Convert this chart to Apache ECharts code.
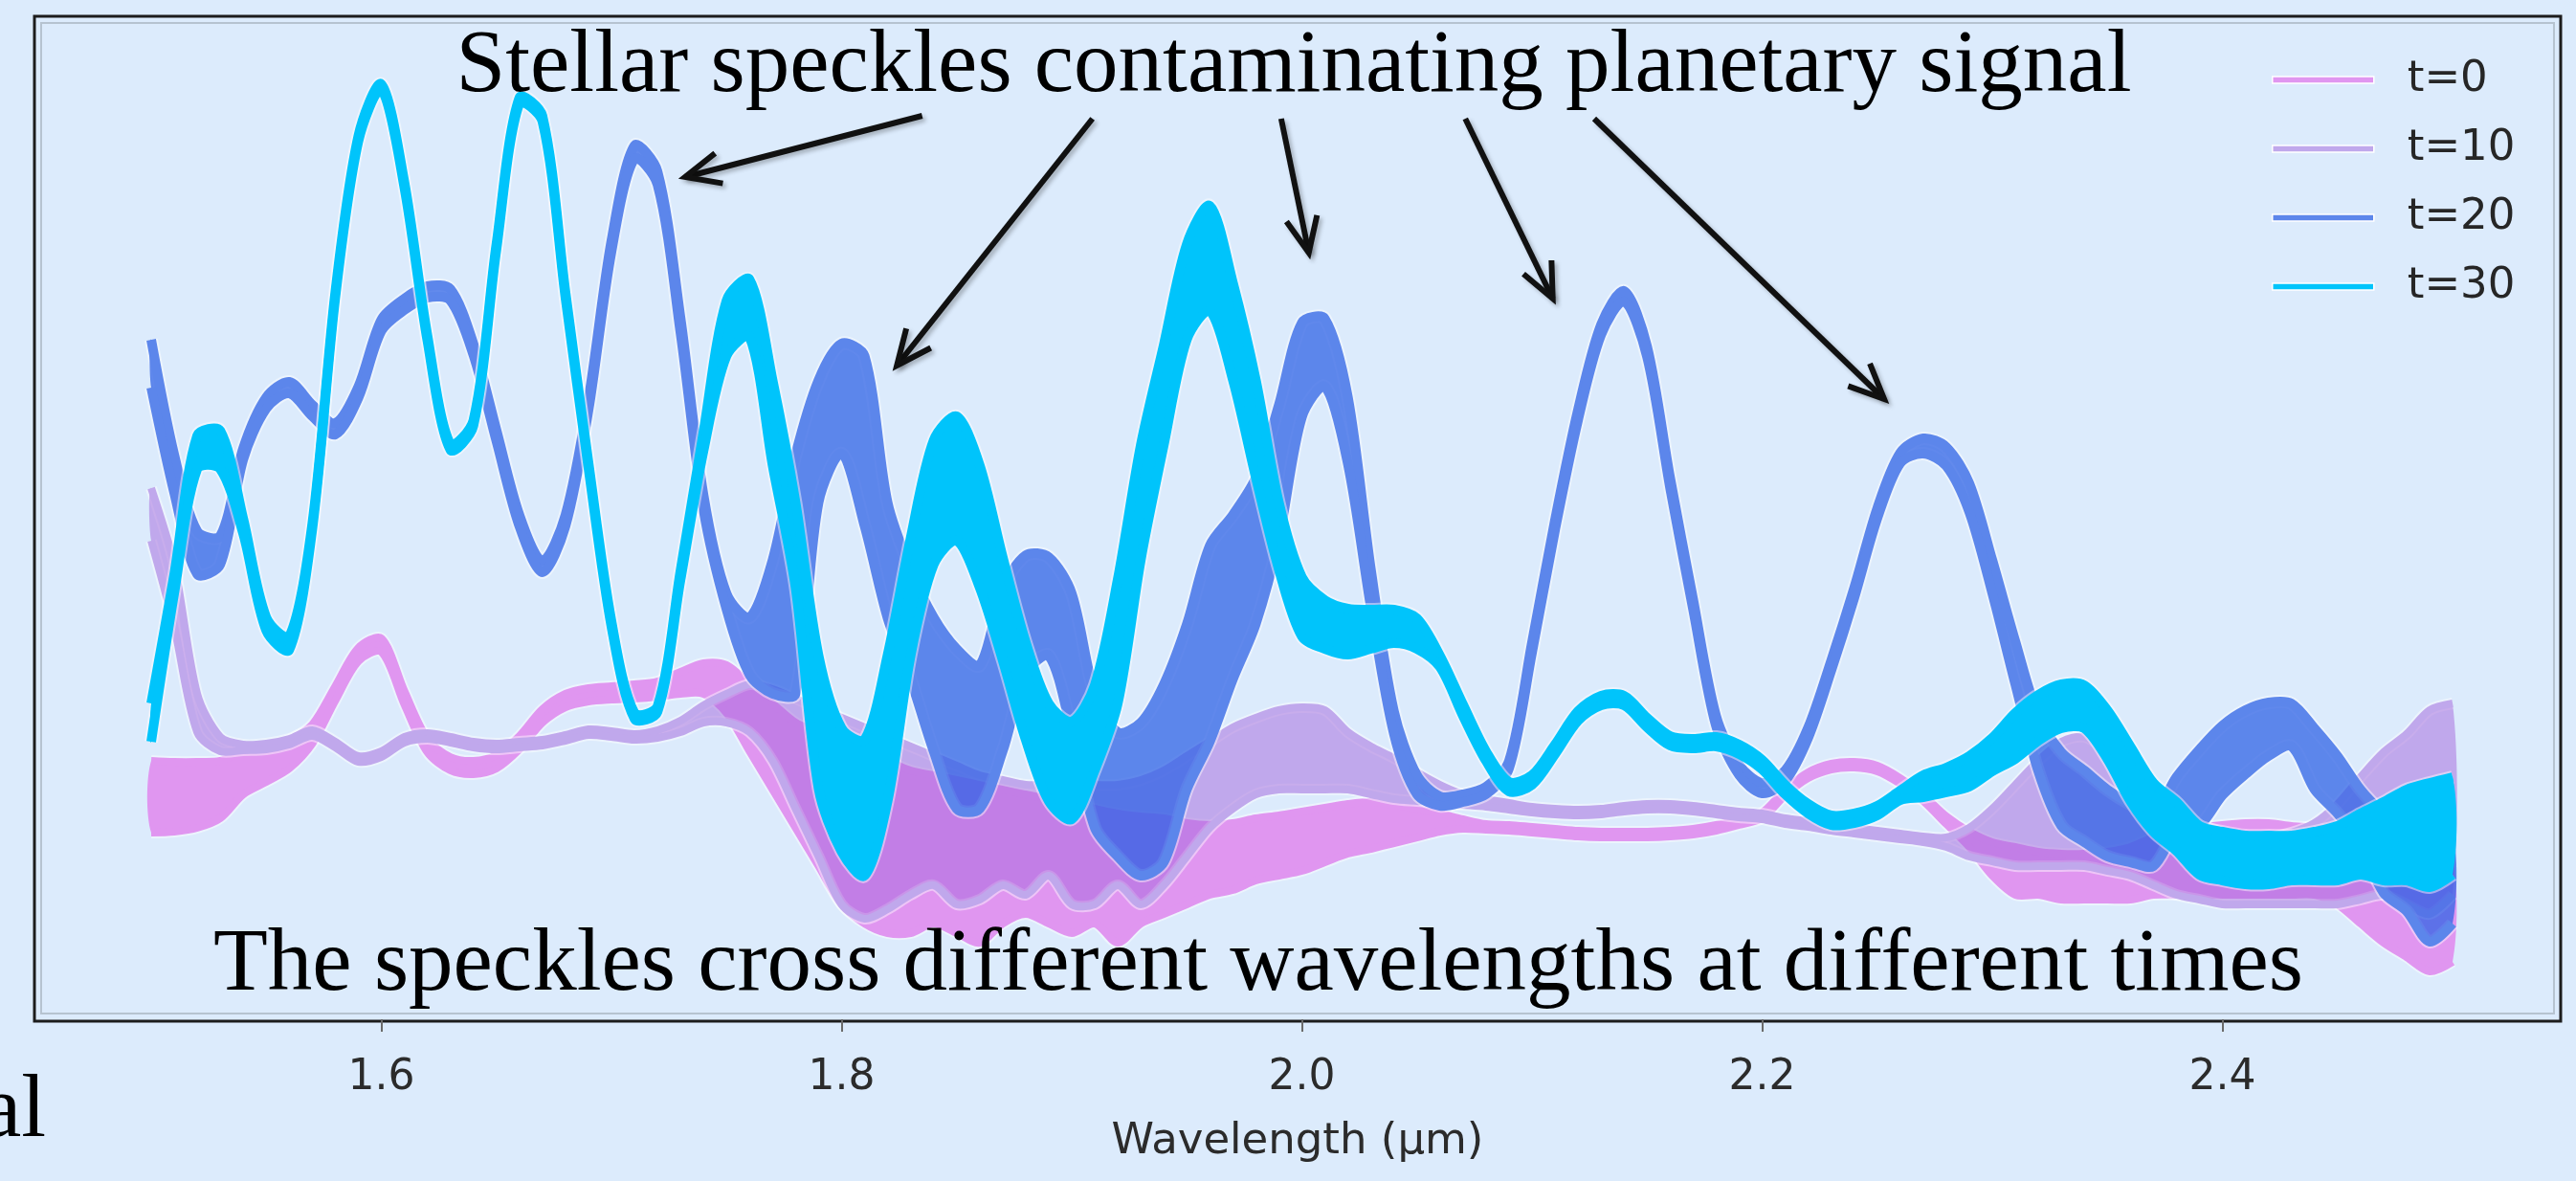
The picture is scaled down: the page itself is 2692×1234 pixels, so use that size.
<!DOCTYPE html>
<html>
<head>
    <meta charset="utf-8">
    <title>Stellar speckles contaminating planetary signal</title>
    <script src="https://cdn.jsdelivr.net/npm/echarts@6/dist/echarts.min.js"></script>
    <style>
        html, body { margin: 0; padding: 0; background: #dcebfc; }
        #main { width: 2692px; height: 1234px; }
    </style>
</head>
<body>
    <div id="main"></div>
    <script type="text/javascript">

        // wavelength grid (micron)
        var wavelength = [
            1.50, 1.51, 1.52, 1.53, 1.54, 1.55, 1.56, 1.57, 1.58, 1.59,
            1.60, 1.61, 1.62, 1.63, 1.64, 1.65, 1.66, 1.67, 1.68, 1.69,
            1.70, 1.71, 1.72, 1.73, 1.74, 1.75, 1.76, 1.77, 1.78, 1.79,
            1.80, 1.81, 1.82, 1.83, 1.84, 1.85, 1.86, 1.87, 1.88, 1.89,
            1.90, 1.91, 1.92, 1.93, 1.94, 1.95, 1.96, 1.97, 1.98, 1.99,
            2.00, 2.01, 2.02, 2.03, 2.04, 2.05, 2.06, 2.07, 2.08, 2.09,
            2.10, 2.11, 2.12, 2.13, 2.14, 2.15, 2.16, 2.17, 2.18, 2.19,
            2.20, 2.21, 2.22, 2.23, 2.24, 2.25, 2.26, 2.27, 2.28, 2.29,
            2.30, 2.31, 2.32, 2.33, 2.34, 2.35, 2.36, 2.37, 2.38, 2.39,
            2.40, 2.41, 2.42, 2.43, 2.44, 2.45, 2.46, 2.47, 2.48, 2.49,
            2.50
        ];

        // each spectrum is noisy, so it is kept as an upper and lower envelope
        var t0Hi = [
            27, 26.9, 26.9, 27, 28, 28.5, 29.2, 30.8, 34.8, 38.8,
            39.8, 34.3, 29.3, 27.4, 27, 27.6, 29.6, 32.4, 34, 34.6,
            34.8, 35, 35.3, 36.3, 37.2, 37, 35, 33, 31, 30,
            29, 28, 27, 26, 25.5, 25, 24.5, 24, 23.5, 23,
            22.5, 22, 21.5, 21.2, 21, 20.5, 20.3, 20.5, 21, 21.3,
            21.7, 22.1, 22.5, 22.7, 22.4, 22, 21.5, 20.9, 20.4, 20.3,
            20.1, 19.9, 19.7, 19.6, 19.6, 19.6, 19.7, 19.9, 20.3, 20.9,
            21.6, 24, 25.8, 26.7, 26.9, 26.5, 25.2, 23.4, 21.2, 19.6,
            18.5, 18, 17.5, 17.3, 17.3, 17.5, 18, 19, 19.5, 20,
            20.3, 20.5, 20.5, 20.2, 20, 19.5, 19, 18.5, 18, 17.5,
            17
        ];
        var t0Lo = [
            19.5, 19.6, 20, 21, 23.5, 24.8, 26.2, 28.8, 33.3, 37.4,
            38.4, 32.9, 27.9, 26, 25.6, 26.2, 28.2, 31, 32.6, 33.2,
            33.4, 33.5, 33.7, 34, 34, 32, 28, 24, 20, 16,
            12, 10, 9, 9, 10, 9, 8, 10, 11, 10,
            9, 10, 8, 10, 11, 12, 13, 13.5, 14.5, 15,
            15.5, 16.4, 17.3, 17.8, 18.4, 19, 19.6, 19.9, 19.8, 19.7,
            19.5, 19.3, 19.1, 19, 19, 19, 19.1, 19.3, 19.7, 20.3,
            21, 23.4, 25.2, 26.1, 26.3, 25.9, 24.6, 22.8, 20.4, 18,
            15, 13, 13, 12.5, 12.5, 12.5, 12.5, 13, 13, 13,
            13, 13, 13, 13, 13, 12, 10, 8, 6.5, 5,
            6
        ];
        var t10Hi = [
            55.5, 47.5, 34, 29.5, 28.7, 28.8, 29.3, 30.2, 29, 27.5,
            28, 29.5, 29.9, 29.5, 29, 28.8, 29, 29.2, 29.7, 30.3,
            30.1, 29.8, 30.2, 31.2, 32.8, 34, 35, 34.5, 33.5, 32.5,
            31.5, 30.5, 29.5, 28.5, 27.5, 26.5, 25.5, 25, 24.5, 24.5,
            24.5, 24.5, 24.5, 25, 26, 27.5, 29, 30.5, 31.5, 32.3,
            32.6, 32.3, 30, 28.5, 27.3, 25.8, 24.5, 23.5, 23, 22.6,
            22.2, 22, 21.9, 22, 22.3, 22.5, 22.5, 22.3, 22, 21.7,
            21.5, 21, 20.7, 20.3, 20, 19.7, 19.4, 19.1, 19, 20,
            22, 24.5, 27, 29, 29.5, 28, 26, 24, 22, 20.5,
            19.5, 19, 19, 19.5, 20.5, 22.5, 25.3, 27.9, 29.8, 32.3,
            33
        ];
        var t10Lo = [
            50, 41, 30, 28, 28.1, 28.2, 28.7, 29.6, 28.4, 26.9,
            27.4, 28.9, 29.3, 28.9, 28.4, 28.2, 28.4, 28.6, 29.1, 29.7,
            29.5, 29.2, 29.4, 30, 31, 31, 30, 27, 22, 17,
            12, 10.5, 11.5, 13, 14, 12, 12.5, 14, 13, 15,
            12, 12, 14, 12, 14, 17, 20, 22, 23.5, 24,
            24, 24, 24, 23.5, 23, 22.8, 22.6, 22.4, 22.2, 21.9,
            21.6, 21.4, 21.3, 21.4, 21.7, 21.9, 21.9, 21.7, 21.4, 21.1,
            20.9, 20.4, 20.1, 19.7, 19.4, 19.1, 18.8, 18.5, 18, 17,
            16.5, 16, 16, 16, 16, 15.5, 15, 14, 13, 12.5,
            12, 12, 12, 12, 12, 12, 12.5, 13, 12, 11,
            13
        ];
        var t20Hi = [
            71, 59, 51, 50.5, 59.7, 65, 66.6, 64.2, 62.3, 66.1,
            73.1, 75.3, 76.6, 76.3, 70.6, 61.6, 52.7, 47.9, 52.7, 64.8,
            81.4, 91.3, 88.6, 73.3, 54.8, 44.5, 42, 48, 59, 66.8,
            70.6, 69.3, 54, 47, 42, 38.7, 37, 45, 48.5, 48.3,
            44.5, 34, 30, 31, 35, 41.3, 49.5, 52.7, 56.6, 64.2,
            72.8, 73.2, 65, 47, 32.2, 25.5, 23.3, 23.5, 24.3, 27,
            39.4, 52.2, 63.7, 72.6, 76.1, 70.3, 56.6, 43.9, 31.7, 26.6,
            24.7, 26, 30.5, 37.5, 45.1, 53.4, 59.2, 60.7, 59.8, 56,
            48, 39.5, 31.7, 27.9, 26, 24, 22.5, 21.5, 25.3, 28.2,
            30.7, 32.3, 33.1, 33, 30.4, 27.5, 24, 21.5, 19.6, 18.9,
            19.6
        ];
        var t20Lo = [
            66, 55, 46.5, 47.5, 58.5, 63.8, 65.4, 63, 61.1, 64.9,
            71.9, 74.1, 75.4, 75.1, 69.4, 60.4, 51.5, 46.7, 51.5, 63.6,
            80.2, 89.9, 87.2, 71.7, 53.2, 42.8, 36, 34, 34, 54,
            59.1, 51.5, 41.9, 35.5, 28, 22, 22, 28, 36, 38,
            30, 20, 17, 15, 16.4, 24, 29, 35.5, 41.3, 50.2,
            62.9, 66.1, 58, 43, 29.8, 23.5, 22.3, 22.7, 23.5, 26.2,
            38.3, 51.1, 62.6, 71.5, 75, 69.2, 55.5, 42.8, 30.6, 25.5,
            23.6, 24.9, 29.4, 36.4, 44, 52.3, 58.1, 59.1, 57.8, 53,
            44.5, 35, 25.9, 20.2, 18.5, 17, 16.4, 16, 19.6, 20.2,
            23.4, 25.6, 27.5, 28.5, 24, 21.5, 18.3, 13.2, 11.3, 8.1,
            10
        ];
        var t30Hi = [
            33, 46.5, 61, 61.5, 52.3, 42, 40, 51.8, 76, 92.3,
            97.7, 87.5, 71.5, 60.1, 62.6, 81, 96.3, 94.4, 76, 58.2,
            41.6, 32, 32.7, 46.9, 61.4, 75.1, 77.3, 66.8, 54, 38,
            30.4, 29.2, 38.1, 50.3, 60.5, 63, 57.9, 48.3, 39.4, 33,
            31.1, 34.9, 46, 60, 70.5, 81, 85, 77, 66.8, 54,
            46.2, 43.8, 42.9, 42.8, 42.8, 41.9, 38, 32.9, 28, 24.8,
            25.5, 28.7, 32.2, 33.8, 33.8, 31.5, 29.6, 29.3, 29.5, 28.7,
            27.1, 24.5, 22.5, 21.3, 21.5, 22.3, 23.9, 25.5, 26.3, 27.5,
            29.4, 32, 33.9, 35, 34.9, 32.3, 28.5, 24.7, 22.7, 20.2,
            19.6, 19.2, 19.2, 19.2, 19.6, 20.2, 21.5, 22.7, 24, 24.7,
            25.3
        ];
        var t30Lo = [
            29, 44.5, 57.5, 57.5, 50.7, 40.6, 38.6, 51.2, 75.4, 91.7,
            97.1, 86.9, 70.9, 59.5, 62, 80.4, 95.7, 93.8, 75.4, 57.6,
            41, 31.4, 32.1, 45.9, 59.4, 69.3, 71.3, 57.9, 45.1, 24.1,
            17.5, 15, 22.8, 38, 47.5, 50, 45.1, 37.5, 29.2, 22.8,
            20.9, 26, 33, 48, 60, 71, 74, 66.8, 56.6, 47,
            40, 38.7, 38.1, 38.7, 39.3, 38.7, 36.8, 31.7, 27, 23.8,
            24.5, 27.7, 31.2, 32.8, 32.8, 30.5, 28.6, 28.3, 28.5, 27.7,
            26.1, 23.5, 21.5, 20.3, 20.5, 21.3, 22.9, 23.2, 23.7, 24.3,
            25.9, 27.2, 29.1, 30.4, 30.4, 27.2, 22.8, 19.6, 17.6, 15.1,
            14.5, 14.1, 14.1, 14.5, 14.5, 14.5, 15.1, 14.5, 14.5, 13.8,
            15.1
        ];

        var seriesNames = ['t=0', 't=10', 't=20', 't=30'];
        var seriesColors = ['#e096f0', '#c0a8ec', '#5c86eb', '#00c4fb'];
        // band fills: t=10 and t=20 are see-through so overlaps come out darker
        var fillColors = ['#e096f0', 'rgba(164,101,220,0.5)', 'rgba(49,100,229,0.75)', '#00c4fb'];
        var edgeWidths = [8, 8, 10, 10];
        var tickValues = [1.6, 1.8, 2.0, 2.2, 2.4];

        // arrows: [wavelength, intensity] of tail and head
        var arrowTail = [[1.835, 94.4], [1.909, 94.1], [1.991, 94.1], [2.071, 94.1], [2.127, 94.1]];
        var arrowHead = [[1.732, 88.0], [1.824, 68.3], [2.003, 80.1], [2.109, 75.3], [2.253, 64.8]];

        var hiData = [t0Hi, t10Hi, t20Hi, t30Hi];
        var loData = [t0Lo, t10Lo, t20Lo, t30Lo];

        var myChart = echarts.init(document.getElementById('main'));

        // draws the whole envelope of one spectrum as a filled band,
        // with a faint light rim like the original picture
        function bandRenderer(i) {
            var lo = loData[i], hi = hiData[i];
            var color = seriesColors[i], width = edgeWidths[i];
            return function (params, api) {
                if (params.dataIndex !== 0) {
                    return null;
                }
                var top = wavelength.map(function (w, k) { return api.coord([w, hi[k]]); });
                var bottom = wavelength.map(function (w, k) { return api.coord([w, lo[k]]); });
                var outline = top.concat(bottom.slice().reverse());
                var rim = { stroke: 'rgba(255,255,255,0.45)', lineWidth: width + 4, fill: null };
                var edge = { stroke: color, lineWidth: width, fill: null };
                return {
                    type: 'group',
                    children: [
                        { type: 'polyline', shape: { points: top, smooth: 0.3 }, style: rim },
                        { type: 'polyline', shape: { points: bottom, smooth: 0.3 }, style: rim },
                        { type: 'polygon', shape: { points: outline, smooth: 0.3 }, style: { fill: fillColors[i] } },
                        { type: 'polyline', shape: { points: top, smooth: 0.3 }, style: edge },
                        { type: 'polyline', shape: { points: bottom, smooth: 0.3 }, style: edge }
                    ]
                };
            };
        }

        var series = seriesNames.map(function (name, i) {
            return {
                name: name,
                type: 'custom',
                coordinateSystem: 'cartesian2d',
                silent: true,
                z: 2 + i,
                itemStyle: { color: seriesColors[i] },
                encode: { x: 0, y: [1, 2] },
                data: wavelength.map(function (w, k) { return [w, loData[i][k], hiData[i][k]]; }),
                renderItem: bandRenderer(i)
            };
        });

        var option = {
            backgroundColor: '#dcebfc',
            animation: false,
            grid: {
                left: 36, right: 16, top: 17, bottom: 167,
                show: true, borderColor: '#1c1c1c', borderWidth: 3,
                backgroundColor: 'transparent'
            },
            legend: {
                data: seriesNames,
                orient: 'vertical',
                left: 2369, top: 56,
                itemWidth: 106, itemHeight: 7, itemGap: 27,
                icon: 'rect',
                selectedMode: false,
                itemStyle: { borderColor: '#ffffff', borderWidth: 1.5 },
                textStyle: {
                    fontFamily: 'DejaVu Sans', fontSize: 45, color: '#262626',
                    lineHeight: 45, padding: [0, 0, 0, 30]
                }
            },
            xAxis: {
                type: 'value', min: 1.44927, max: 2.54698,
                name: 'Wavelength (μm)', nameLocation: 'middle', nameGap: 104,
                nameTextStyle: { fontFamily: 'DejaVu Sans', fontSize: 45, color: '#2b2b2b' },
                axisLine: { show: false },
                axisTick: {
                    show: true, customValues: tickValues, length: 13,
                    lineStyle: { color: '#6a6a6a', width: 2 }
                },
                axisLabel: {
                    customValues: tickValues,
                    formatter: function (v) { return v.toFixed(1); },
                    fontFamily: 'DejaVu Sans', fontSize: 44, color: '#2b2b2b', margin: 38
                },
                splitLine: { show: false }
            },
            yAxis: { type: 'value', min: -0.2, max: 104.8, show: false },
            series: series
        };
        myChart.setOption(option);

        // annotations: texts, inner frame line and arrows
        var graphics = [
            {
                type: 'rect', silent: true, z: 0,
                shape: { x: 43, y: 24, width: 2626, height: 1035 },
                style: { fill: null, stroke: '#b6c3d0', lineWidth: 2 }
            },
            {
                type: 'text', silent: true, z: 100,
                style: {
                    text: 'Stellar speckles contaminating planetary signal',
                    x: 1352, y: 71, fill: '#000',
                    font: '93px "Liberation Serif"',
                    align: 'center', verticalAlign: 'middle',
                    textAlign: 'center', textVerticalAlign: 'middle'
                }
            },
            {
                type: 'text', silent: true, z: 100,
                style: {
                    text: 'The speckles cross different wavelengths at different times',
                    x: 1315, y: 1010, fill: '#000',
                    font: '93px "Liberation Serif"',
                    align: 'center', verticalAlign: 'middle',
                    textAlign: 'center', textVerticalAlign: 'middle'
                }
            },
            {
                type: 'text', silent: true, z: 100,
                style: {
                    text: 'al', x: 48, y: 1163, fill: '#000',
                    font: '93px "Liberation Serif"',
                    align: 'right', verticalAlign: 'middle',
                    textAlign: 'right', textVerticalAlign: 'middle'
                }
            }
        ];

        arrowTail.forEach(function (tail, i) {
            var p0 = myChart.convertToPixel({ gridIndex: 0 }, tail);
            var p1 = myChart.convertToPixel({ gridIndex: 0 }, arrowHead[i]);
            var ang = Math.atan2(p0[1] - p1[1], p0[0] - p1[0]);
            var len = 40, spread = 0.42;
            var a1 = [p1[0] + len * Math.cos(ang + spread), p1[1] + len * Math.sin(ang + spread)];
            var a2 = [p1[0] + len * Math.cos(ang - spread), p1[1] + len * Math.sin(ang - spread)];
            var st = {
                stroke: '#111', lineWidth: 6, fill: null, lineJoin: 'miter',
                shadowColor: 'rgba(0,0,0,0.25)', shadowBlur: 4, shadowOffsetX: 3, shadowOffsetY: 3
            };
            graphics.push({
                type: 'line', silent: true, z: 90,
                shape: { x1: p0[0], y1: p0[1], x2: p1[0], y2: p1[1] },
                style: st
            });
            graphics.push({
                type: 'polyline', silent: true, z: 90,
                shape: { points: [a1, p1, a2] },
                style: st
            });
        });

        myChart.setOption({ graphic: graphics });

    </script>
</body>
</html>
